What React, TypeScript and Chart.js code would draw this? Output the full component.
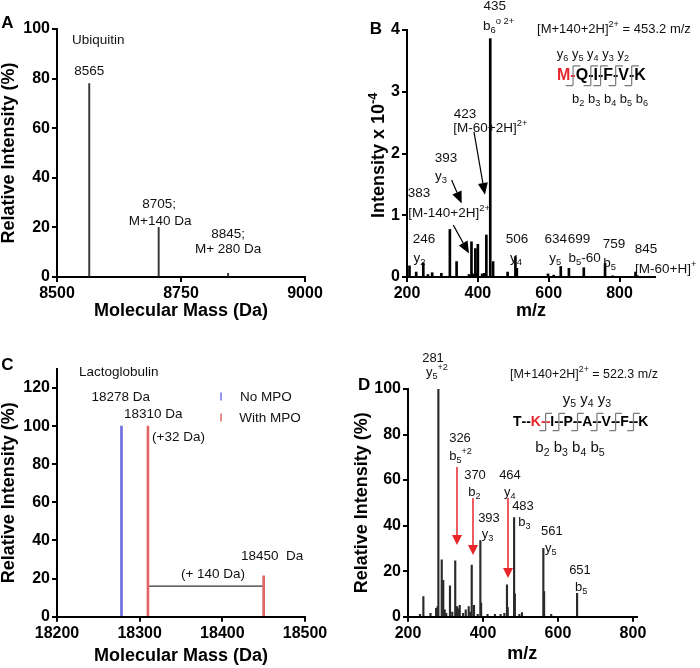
import React, { useEffect, useRef } from 'react';
import { Chart, registerables } from 'chart.js';

Chart.register(...registerables);

const FONT = '"Liberation Sans", Arial, Helvetica, sans-serif';
const RED = '#e8262a';

// ---------- Panel A: ubiquitin intact mass ----------
const ubiquitinMass = [8565, 8705, 8845];
const ubiquitinIntensity = [78, 20, 1.5];
const ubiquitinXTicks = [8500, 8750, 9000];
const ubiquitinYTicks = [0, 20, 40, 60, 80, 100];

// ---------- Panel B: ubiquitin peptide MS/MS ----------
const ubiPeptideMz = [207, 226, 246, 259, 271, 297, 321, 340, 375, 382, 386, 393, 396, 400, 412, 418, 424, 435, 443, 484, 506, 510, 598, 614, 634, 657, 699, 759, 780, 845];
const ubiPeptideIntensity = [0.18, 0.08, 0.23, 0.04, 0.07, 0.06, 0.77, 0.25, 0.04, 0.57, 0.05, 0.46, 0.06, 0.53, 0.05, 0.06, 0.68, 3.86, 0.25, 0.08, 0.33, 0.14, 0.05, 0.03, 0.17, 0.14, 0.15, 0.22, 0.02, 0.08];
const ubiPeptideXTicks = [200, 400, 600, 800];
const ubiPeptideYTicks = [0, 1, 2, 3, 4];

// ---------- Panel C: lactoglobulin intact mass ----------
const lactoNoMpoMass = [18278];
const lactoNoMpoIntensity = [100];
const lactoMpoMass = [18310, 18450];
const lactoMpoIntensity = [100, 21.5];
const lactoShiftMass = [18310, 18450];
const lactoShiftLevel = [16, 16];
const lactoXTicks = [18200, 18300, 18400, 18500];
const lactoYTicks = [0, 20, 40, 60, 80, 100, 120];

// ---------- Panel D: lactoglobulin peptide MS/MS ----------
const lactoPeptideMz = [232, 241, 260, 275, 279, 281, 290, 294, 298, 302, 312, 318, 326, 329, 331, 334, 338, 347, 354, 362, 366, 370, 376, 386, 393, 395, 412, 432, 447, 457, 464, 466, 483, 485, 497, 504, 561, 563, 582, 651];
const lactoPeptideIntensity = [1, 8.8, 1.5, 3.7, 4.5, 100, 25, 16, 3, 1.5, 13.6, 2, 24.5, 3, 4.4, 3.5, 5, 1.5, 3, 4.4, 2, 22.7, 5, 1, 33.4, 6, 1, 1, 1, 1.5, 14, 4, 43.5, 10, 1, 1.8, 30, 11, 1, 10.3];
const lactoPeptideXTicks = [200, 400, 600, 800];
const lactoPeptideYTicks = [0, 20, 40, 60, 80, 100];

type Ann =
  | { kind: 'text'; x: number; y: number; text: string; size?: number; align?: 'left' | 'center' | 'right'; bold?: boolean; color?: string }
  | { kind: 'arrow'; x1: number; y1: number; x2: number; y2: number; color: string; head: number; width: number; lw: number }
  | { kind: 'seq'; x: number; y: number; residues: string[]; red: number[]; sep: string; size: number; brackets: number[] }
  | { kind: 'tick'; x: number; y: number; color: string; len: number }
  | { kind: 'vtitle'; x: number; y: number; text: string; size: number };

type Seg = { t: string; k: 'n' | 'sub' | 'sup' };

function parseRich(s: string): Seg[] {
  const segs: Seg[] = [];
  let buf = '';
  let i = 0;
  while (i < s.length) {
    const c = s[i];
    if ((c === '_' || c === '^') && s[i + 1] === '{') {
      if (buf) { segs.push({ t: buf, k: 'n' }); buf = ''; }
      const end = s.indexOf('}', i);
      segs.push({ t: s.slice(i + 2, end), k: c === '_' ? 'sub' : 'sup' });
      i = end + 1;
    } else {
      buf += c;
      i++;
    }
  }
  if (buf) segs.push({ t: buf, k: 'n' });
  return segs;
}

function setFont(ctx: CanvasRenderingContext2D, size: number, bold: boolean) {
  ctx.font = `${bold ? 'bold ' : ''}${size}px ${FONT}`;
}

function drawRich(ctx: CanvasRenderingContext2D, text: string, x: number, y: number, size: number, align: string, color: string, bold: boolean) {
  const segs = parseRich(text);
  let w = 0;
  for (const s of segs) {
    setFont(ctx, s.k === 'n' ? size : size * 0.7, bold);
    w += ctx.measureText(s.t).width;
  }
  let cx = align === 'left' ? x : align === 'right' ? x - w : x - w / 2;
  const base = y + size * 0.36;
  ctx.fillStyle = color;
  ctx.textBaseline = 'alphabetic';
  ctx.textAlign = 'left';
  for (const s of segs) {
    const sz = s.k === 'n' ? size : size * 0.7;
    setFont(ctx, sz, bold);
    const by = s.k === 'sub' ? base + size * 0.25 : s.k === 'sup' ? base - size * 0.42 : base;
    ctx.fillText(s.t, cx, by);
    cx += ctx.measureText(s.t).width;
  }
}

function makeAnnotationPlugin(items: Ann[]) {
  return {
    id: 'annot',
    afterDraw(chart: any) {
      const ctx: CanvasRenderingContext2D = chart.ctx;
      const xs = chart.scales.x;
      const ys = chart.scales.y;
      const px = (v: number) => xs.getPixelForValue(v);
      const py = (v: number) => ys.getPixelForValue(v);
      ctx.save();
      for (const a of items) {
        if (a.kind === 'text') {
          drawRich(ctx, a.text, px(a.x), py(a.y), a.size ?? 13.5, a.align ?? 'center', a.color ?? '#111', !!a.bold);
        } else if (a.kind === 'vtitle') {
          ctx.save();
          ctx.translate(px(a.x), py(a.y));
          ctx.rotate(-Math.PI / 2);
          drawRich(ctx, a.text, 0, 0, a.size, 'center', '#000', true);
          ctx.restore();
        } else if (a.kind === 'arrow') {
          const x1 = px(a.x1), y1 = py(a.y1), x2 = px(a.x2), y2 = py(a.y2);
          const ang = Math.atan2(y2 - y1, x2 - x1);
          const bx = x2 - a.head * Math.cos(ang);
          const by = y2 - a.head * Math.sin(ang);
          ctx.strokeStyle = a.color;
          ctx.fillStyle = a.color;
          ctx.lineWidth = a.lw;
          ctx.beginPath();
          ctx.moveTo(x1, y1);
          ctx.lineTo(bx, by);
          ctx.stroke();
          const hw = a.width / 2;
          ctx.beginPath();
          ctx.moveTo(x2, y2);
          ctx.lineTo(bx + hw * Math.sin(ang), by - hw * Math.cos(ang));
          ctx.lineTo(bx - hw * Math.sin(ang), by + hw * Math.cos(ang));
          ctx.closePath();
          ctx.fill();
        } else if (a.kind === 'tick') {
          const x = px(a.x), y = py(a.y);
          ctx.strokeStyle = a.color;
          ctx.lineWidth = 1.5;
          ctx.beginPath();
          ctx.moveTo(x, y - a.len / 2);
          ctx.lineTo(x, y + a.len / 2);
          ctx.stroke();
        } else if (a.kind === 'seq') {
          setFont(ctx, a.size, true);
          ctx.textBaseline = 'middle';
          ctx.textAlign = 'left';
          let cx = px(a.x);
          const cy = py(a.y);
          const h = a.size * 0.62;
          const w = a.size * 0.45;
          a.residues.forEach((r, i) => {
            ctx.fillStyle = a.red.includes(i) ? RED : '#000';
            ctx.fillText(r, cx, cy);
            cx += ctx.measureText(r).width;
            if (i < a.residues.length - 1) {
              const sw = ctx.measureText(a.sep).width;
              ctx.fillStyle = a.red.includes(i) ? RED : '#000';
              ctx.fillText(a.sep, cx, cy);
              if (a.brackets.includes(i)) {
                const g = cx + sw / 2;
                ctx.strokeStyle = '#7a7a7a';
                ctx.lineWidth = 1.2;
                ctx.beginPath();
                ctx.moveTo(g, cy - h);
                ctx.lineTo(g, cy + h);
                ctx.moveTo(g, cy - h);
                ctx.lineTo(g + w, cy - h);
                ctx.moveTo(g - w, cy + h);
                ctx.lineTo(g, cy + h);
                ctx.stroke();
              }
              cx += sw;
            }
          });
        }
      }
      ctx.restore();
    },
  };
}

type PanelCfg = {
  area: { l: number; t: number; r: number; b: number };
  xMin: number; xMax: number; xTicks: number[]; xTitle: string; xTitlePad: number;
  yMin: number; yMax: number; yTicks: number[]; yTitle: string; yTitlePad: number;
};

const W = 350;
const H = 334;

function buildOptions(p: PanelCfg) {
  const tickFont = { family: FONT, size: 16, weight: 'bold' as const };
  const titleFont = { family: FONT, size: 18, weight: 'bold' as const, lineHeight: 1 };
  const border = { display: true, color: '#000', width: 2 };
  const grid = { display: true, drawOnChartArea: false, drawTicks: true, tickLength: 5, color: '#000', lineWidth: 2, offset: false };
  return {
    responsive: false,
    animation: false,
    events: [],
    layout: { padding: { left: 0, top: p.area.t, right: W - p.area.r, bottom: 0 } },
    plugins: { legend: { display: false }, tooltip: { enabled: false } },
    scales: {
      x: {
        type: 'linear',
        position: 'bottom',
        min: p.xMin,
        max: p.xMax,
        offset: false,
        afterBuildTicks: (s: any) => { s.ticks = p.xTicks.map((v) => ({ value: v })); },
        afterFit: (s: any) => { s.height = H - p.area.b; },
        border,
        grid,
        ticks: { color: '#000', font: tickFont, padding: 2, maxRotation: 0, autoSkip: false, callback: (v: any) => String(v) },
        title: { display: p.xTitle !== '', text: p.xTitle, color: '#000', font: titleFont, padding: { top: 0, bottom: p.xTitlePad } },
      },
      y: {
        type: 'linear',
        position: 'left',
        min: p.yMin,
        max: p.yMax,
        afterBuildTicks: (s: any) => { s.ticks = p.yTicks.map((v) => ({ value: v })); },
        afterFit: (s: any) => { s.width = p.area.l; },
        border,
        grid,
        ticks: { color: '#000', font: tickFont, padding: 2, autoSkip: false, callback: (v: any) => String(v) },
        title: { display: p.yTitle !== '', text: p.yTitle, color: '#000', font: titleFont, padding: { top: p.yTitlePad, bottom: 0 } },
      },
    },
  };
}

function sticks(xs: number[], ys: number[], color: string, thickness: number) {
  return {
    type: 'bar',
    data: xs.map((x, i) => ({ x, y: ys[i] })),
    backgroundColor: color,
    borderWidth: 0,
    barThickness: thickness,
    grouped: false,
  };
}

// ---------- annotations ----------
const annA: Ann[] = [
  { kind: 'text', x: 8400, y: 102.8, text: 'A', size: 17, bold: true, color: '#000' },
  { kind: 'text', x: 8530, y: 96, text: 'Ubiquitin', align: 'left' },
  { kind: 'text', x: 8565, y: 83.5, text: '8565' },
  { kind: 'text', x: 8706, y: 29.8, text: '8705;' },
  { kind: 'text', x: 8708, y: 23, text: 'M+140 Da' },
  { kind: 'text', x: 8845, y: 17.7, text: '8845;' },
  { kind: 'text', x: 8845, y: 11.7, text: 'M+ 280 Da' },
];

const annB: Ann[] = [
  { kind: 'text', x: 112.5, y: 4.03, text: 'B', size: 17, bold: true, color: '#000' },
  { kind: 'vtitle', x: 118, y: 1.97, text: 'Intensity x 10^{-4}', size: 18 },
  { kind: 'text', x: 448, y: 4.4, text: '435' },
  { kind: 'text', x: 414.5, y: 4.08, text: 'b_{6}^{o 2+}', align: 'left' },
  { kind: 'text', x: 567, y: 4.03, text: '[M+140+2H]^{2+} = 453.2 m/z', align: 'left', size: 13 },
  { kind: 'text', x: 622.6, y: 3.63, text: 'y_{6} y_{5} y_{4} y_{3} y_{2}', align: 'left', size: 13 },
  { kind: 'seq', x: 623.5, y: 3.26, residues: ['M', 'Q', 'I', 'F', 'V', 'K'], red: [0], sep: '-', size: 16, brackets: [0, 1, 2, 3, 4] },
  { kind: 'text', x: 666, y: 2.9, text: 'b_{2} b_{3} b_{4} b_{5} b_{6}', align: 'left', size: 13 },
  { kind: 'text', x: 363.7, y: 2.66, text: '423' },
  { kind: 'text', x: 330.7, y: 2.43, text: '[M-60+2H]^{2+}', align: 'left' },
  { kind: 'text', x: 310, y: 1.94, text: '393' },
  { kind: 'text', x: 279, y: 1.65, text: 'y_{3}', align: 'left' },
  { kind: 'text', x: 234, y: 1.38, text: '383' },
  { kind: 'text', x: 203.7, y: 1.05, text: '[M-140+2H]^{2+}', align: 'left' },
  { kind: 'text', x: 248, y: 0.63, text: '246' },
  { kind: 'text', x: 218, y: 0.32, text: 'y_{2}', align: 'left' },
  { kind: 'text', x: 510.5, y: 0.63, text: '506' },
  { kind: 'text', x: 490.8, y: 0.32, text: 'y_{4}', align: 'left' },
  { kind: 'text', x: 620, y: 0.63, text: '634' },
  { kind: 'text', x: 685.6, y: 0.63, text: '699' },
  { kind: 'text', x: 601.8, y: 0.32, text: 'y_{5}', align: 'left' },
  { kind: 'text', x: 655.5, y: 0.32, text: 'b_{5}-60', align: 'left' },
  { kind: 'text', x: 784, y: 0.55, text: '759' },
  { kind: 'text', x: 754, y: 0.24, text: 'b_{5}', align: 'left' },
  { kind: 'text', x: 874.7, y: 0.47, text: '845' },
  { kind: 'text', x: 843.6, y: 0.146, text: '[M-60+H]^{+}', align: 'left' },
  { kind: 'arrow', x1: 389, y1: 2.35, x2: 420, y2: 1.33, color: '#000', head: 12, width: 10, lw: 1.2 },
  { kind: 'arrow', x1: 326, y1: 1.57, x2: 354.4, y2: 1.19, color: '#000', head: 12, width: 10, lw: 1.2 },
  { kind: 'arrow', x1: 330.7, y1: 0.84, x2: 375, y2: 0.38, color: '#000', head: 12, width: 10, lw: 1.2 },
];

const annC: Ann[] = [
  { kind: 'text', x: 18140, y: 132.5, text: 'C', size: 17, bold: true, color: '#000' },
  { kind: 'text', x: 18226.6, y: 128.8, text: 'Lactoglobulin', align: 'left' },
  { kind: 'text', x: 18277, y: 115.6, text: '18278 Da' },
  { kind: 'text', x: 18316.5, y: 106.7, text: '18310 Da' },
  { kind: 'text', x: 18315, y: 94.6, text: '(+32 Da)', align: 'left' },
  { kind: 'tick', x: 18398.4, y: 115.6, color: '#6f6fe0', len: 8 },
  { kind: 'tick', x: 18398.4, y: 104.6, color: '#e06666', len: 8 },
  { kind: 'text', x: 18421.4, y: 115.6, text: 'No MPO', align: 'left' },
  { kind: 'text', x: 18420.6, y: 104.6, text: 'With MPO', align: 'left' },
  { kind: 'text', x: 18422.6, y: 32.5, text: '18450  Da', align: 'left' },
  { kind: 'text', x: 18388.7, y: 23, text: '(+ 140 Da)' },
];

const annD: Ann[] = [
  { kind: 'text', x: 82.7, y: 102.2, text: 'D', size: 17, bold: true, color: '#000' },
  { kind: 'text', x: 266.7, y: 114, text: '281', size: 13 },
  { kind: 'text', x: 248, y: 107.9, text: 'y_{5}^{+2}', align: 'left', size: 13 },
  { kind: 'text', x: 472, y: 107, text: '[M+140+2H]^{2+} = 522.3 m/z', align: 'left', size: 12.5 },
  { kind: 'text', x: 677.4, y: 96, text: 'y_{5} y_{4} y_{3}', size: 15 },
  { kind: 'seq', x: 480, y: 85.5, residues: ['T', 'K', 'I', 'P', 'A', 'V', 'F', 'K'], red: [1], sep: '--', size: 14, brackets: [1, 2, 3, 4, 5, 6] },
  { kind: 'text', x: 632, y: 74.5, text: 'b_{2} b_{3} b_{4} b_{5}', size: 15 },
  { kind: 'text', x: 338.7, y: 78.9, text: '326', size: 13 },
  { kind: 'text', x: 310, y: 71, text: 'b_{5}^{+2}', align: 'left', size: 13 },
  { kind: 'text', x: 378.7, y: 62.7, text: '370', size: 13 },
  { kind: 'text', x: 360.8, y: 55.2, text: 'b_{2}', align: 'left', size: 13 },
  { kind: 'text', x: 472, y: 62.7, text: '464', size: 13 },
  { kind: 'text', x: 456, y: 55.2, text: 'y_{4}', align: 'left', size: 13 },
  { kind: 'text', x: 506.7, y: 49, text: '483', size: 13 },
  { kind: 'text', x: 494, y: 42, text: 'b_{3}', align: 'left', size: 13 },
  { kind: 'text', x: 416, y: 43.8, text: '393', size: 13 },
  { kind: 'text', x: 396.5, y: 36.8, text: 'y_{3}', align: 'left', size: 13 },
  { kind: 'text', x: 584, y: 38, text: '561', size: 13 },
  { kind: 'text', x: 565.4, y: 30.5, text: 'y_{5}', align: 'left', size: 13 },
  { kind: 'text', x: 658.7, y: 21, text: '651', size: 13 },
  { kind: 'text', x: 645.4, y: 13.5, text: 'b_{5}', align: 'left', size: 13 },
  { kind: 'arrow', x1: 330.7, y1: 65.7, x2: 330.7, y2: 31.5, color: RED, head: 10, width: 10, lw: 1.5 },
  { kind: 'arrow', x1: 373.4, y1: 52.1, x2: 373.4, y2: 27.1, color: RED, head: 10, width: 10, lw: 1.5 },
  { kind: 'arrow', x1: 466.7, y1: 52.1, x2: 466.7, y2: 17, color: RED, head: 10, width: 10, lw: 1.5 },
];

const configA = () => ({
  type: 'bar',
  data: { datasets: [sticks(ubiquitinMass, ubiquitinIntensity, '#3a3a3a', 1.3)] },
  options: buildOptions({
    area: { l: 57, t: 29, r: 305, b: 277 },
    xMin: 8500, xMax: 9000, xTicks: ubiquitinXTicks, xTitle: 'Molecular Mass (Da)', xTitlePad: 14,
    yMin: 0, yMax: 100, yTicks: ubiquitinYTicks, yTitle: 'Relative Intensity (%)', yTitlePad: 0,
  }),
  plugins: [makeAnnotationPlugin(annA)],
});

const configB = () => ({
  type: 'bar',
  data: { datasets: [sticks(ubiPeptideMz, ubiPeptideIntensity, '#000', 2)] },
  options: buildOptions({
    area: { l: 57, t: 30, r: 305, b: 277 },
    xMin: 200, xMax: 900, xTicks: ubiPeptideXTicks, xTitle: 'm/z', xTitlePad: 14,
    yMin: 0, yMax: 4, yTicks: ubiPeptideYTicks, yTitle: '', yTitlePad: 0,
  }),
  plugins: [makeAnnotationPlugin(annB)],
});

const configC = () => ({
  type: 'bar',
  data: {
    datasets: [
      sticks(lactoNoMpoMass, lactoNoMpoIntensity, '#6f6fe0', 2),
      sticks(lactoMpoMass, lactoMpoIntensity, '#e06666', 2),
      {
        type: 'line',
        data: lactoShiftMass.map((x, i) => ({ x, y: lactoShiftLevel[i] })),
        borderColor: '#333',
        borderWidth: 1.3,
        pointRadius: 0,
        fill: false,
      },
    ],
  },
  options: buildOptions({
    area: { l: 57, t: 35, r: 305, b: 282.7 },
    xMin: 18200, xMax: 18500, xTicks: lactoXTicks, xTitle: 'Molecular Mass (Da)', xTitlePad: 3,
    yMin: 0, yMax: 130, yTicks: lactoYTicks, yTitle: 'Relative Intensity (%)', yTitlePad: 0,
  }),
  plugins: [makeAnnotationPlugin(annC)],
});

const configD = () => ({
  type: 'bar',
  data: { datasets: [sticks(lactoPeptideMz, lactoPeptideIntensity, '#2a2a2a', 1.5)] },
  options: buildOptions({
    area: { l: 58, t: 55, r: 286.7, b: 282.7 },
    xMin: 200, xMax: 810, xTicks: lactoPeptideXTicks, xTitle: 'm/z', xTitlePad: 5,
    yMin: 0, yMax: 100, yTicks: lactoPeptideYTicks, yTitle: 'Relative Intensity (%)', yTitlePad: 3,
  }),
  plugins: [makeAnnotationPlugin(annD)],
});

function Panel({ left, top, build }: { left: number; top: number; build: () => any }) {
  const ref = useRef<HTMLCanvasElement>(null);
  useEffect(() => {
    const chart = new Chart(ref.current as HTMLCanvasElement, build());
    return () => chart.destroy();
  }, []);
  return (
    <div style={{ position: 'absolute', left, top, width: W, height: H }}>
      <canvas ref={ref} width={W} height={H} style={{ display: 'block', width: W, height: H }} />
    </div>
  );
}

export default function App() {
  return (
    <div style={{ position: 'absolute', left: 0, top: 0, width: 700, height: 668, background: '#fff', overflow: 'hidden' }}>
      <Panel left={0} top={0} build={configA} />
      <Panel left={350} top={0} build={configB} />
      <Panel left={0} top={334} build={configC} />
      <Panel left={350} top={334} build={configD} />
    </div>
  );
}
